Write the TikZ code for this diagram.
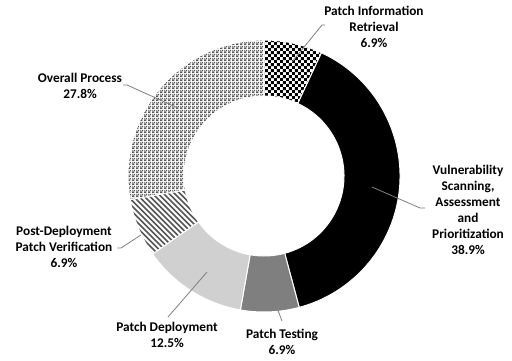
\documentclass[tikz,border=0pt]{standalone}
\usepackage{fontspec}
\setmainfont{Carlito}
\usetikzlibrary{patterns}

\definecolor{leadergray}{HTML}{7F7F7F}
\definecolor{testgray}{HTML}{7F7F7F}
\definecolor{deploygray}{HTML}{D0D0D0}
\definecolor{linegray}{HTML}{555555}
\definecolor{weavegray}{HTML}{575757}

% small checker squares
\pgfdeclarepatternformonly{finechecker}{\pgfpointorigin}{\pgfqpoint{6.4pt}{6.4pt}}{\pgfqpoint{6.4pt}{6.4pt}}{
  \pgfpathrectangle{\pgfpointorigin}{\pgfqpoint{3.2pt}{3.2pt}}
  \pgfpathrectangle{\pgfqpoint{3.2pt}{3.2pt}}{\pgfqpoint{3.2pt}{3.2pt}}
  \pgfusepath{fill}}
% dense weave
\pgfdeclarepatternformonly{fineweave}{\pgfpointorigin}{\pgfqpoint{4pt}{4pt}}{\pgfqpoint{4pt}{4pt}}{
  \pgfpathrectangle{\pgfpointorigin}{\pgfqpoint{2pt}{2pt}}
  \pgfpathrectangle{\pgfqpoint{2pt}{2pt}}{\pgfqpoint{2pt}{2pt}}
  \pgfpathrectangle{\pgfqpoint{2pt}{0pt}}{\pgfqpoint{1pt}{1pt}}
  \pgfpathrectangle{\pgfqpoint{0pt}{3pt}}{\pgfqpoint{1pt}{1pt}}
  \pgfusepath{fill}}
% diagonal stripes
\pgfdeclarepatternformonly{thickstripes}{\pgfqpoint{-1pt}{-1pt}}{\pgfqpoint{6.5pt}{6.5pt}}{\pgfqpoint{5.5pt}{5.5pt}}{
  \pgfsetlinewidth{1.6pt}
  \pgfpathmoveto{\pgfqpoint{-0.1pt}{5.6pt}}
  \pgfpathlineto{\pgfqpoint{5.6pt}{-0.1pt}}
  \pgfusepath{stroke}}

\newcommand{\ringslice}[3]{%
  \filldraw[#3,draw=white,line width=1pt] (#1:136) arc[start angle=#1,end angle=#2,radius=136]
    -- (#2:80) arc[start angle=#2,end angle=#1,radius=80] -- cycle;}

\begin{document}
\begin{tikzpicture}[x=1pt,y=-1pt,
  lbl/.style={align=center,font=\fontsize{13.3}{16}\selectfont\bfseries,inner sep=0pt},
  leader/.style={draw=leadergray,line width=0.8pt}]
\useasboundingbox (0,0) rectangle (512,360);

% the ring
\begin{scope}[shift={(264,176)},x=1pt,y=1pt]
  \ringslice{90}{65}{pattern=finechecker,pattern color=black}
  \ringslice{65}{-75}{fill=black}
  \ringslice{-75}{-100}{fill=testgray}
  \ringslice{-100}{-145}{fill=deploygray}
  \ringslice{-145}{-170}{pattern=thickstripes,pattern color=linegray}
  \ringslice{-170}{-270}{pattern=fineweave,pattern color=weavegray}
\end{scope}

% labels
\node[lbl] (pir) at (374,27) {Patch Information\\Retrieval\\6.9\%};
\node[lbl] (vuln) at (468,210) {Vulnerability\\Scanning,\\Assessment\\and\\Prioritization\\38.9\%};
\node[lbl] (test) at (282,342) {Patch Testing\\6.9\%};
\node[lbl] (deploy) at (167,335) {Patch Deployment\\12.5\%};
\node[lbl] (post) at (64,247) {Post-Deployment\\Patch Verification\\6.9\%};
\node[lbl] (overall) at (80,86) {Overall Process\\27.8\%};

% leader lines
\coordinate (pirin) at (292,62);
\coordinate (pirbend) at (322,25);
\coordinate (pirout) at (325,25);
\coordinate (vulnin) at (372,187);
\coordinate (vulnbend) at (420,208);
\coordinate (vulnout) at (425,208);
\coordinate (testin) at (269,287);
\coordinate (testout) at (282,321);
\coordinate (deployin) at (207,272);
\coordinate (deployout) at (168,317);
\coordinate (postin) at (141,235);
\coordinate (postbend) at (121,248);
\coordinate (postout) at (117,248);
\coordinate (overallin) at (178,108);
\coordinate (overallbend) at (127,85);
\coordinate (overallout) at (123,85);

\draw[leader] (pirout) -- (pirbend) -- (pirin);
\draw[leader] (vulnout) -- (vulnbend) -- (vulnin);
\draw[leader] (testout) -- (testin);
\draw[leader] (deployout) -- (deployin);
\draw[leader] (postout) -- (postbend) -- (postin);
\draw[leader] (overallout) -- (overallbend) -- (overallin);
\end{tikzpicture}
\end{document}
